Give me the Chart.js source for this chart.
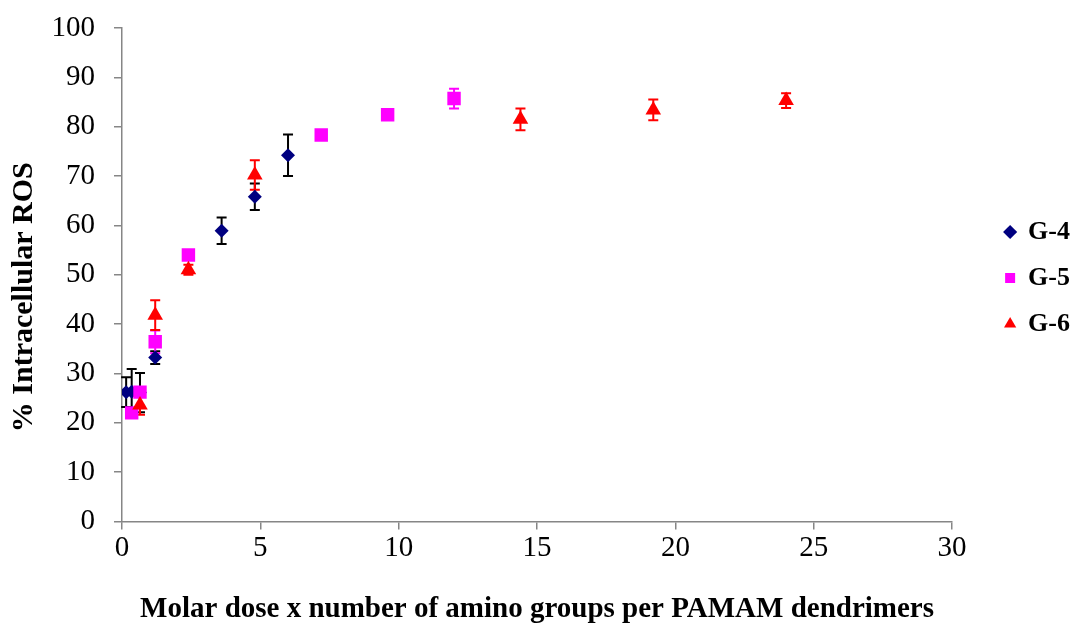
<!DOCTYPE html>
<html><head><meta charset="utf-8">
<script src="https://cdn.jsdelivr.net/npm/chart.js@4.4.0/dist/chart.umd.min.js"></script>
<style>html,body{margin:0;padding:0;background:#fff}</style>
</head><body>
<canvas id="c" width="1075" height="627"></canvas>
<script>
// ---- data ----
const seriesNames = ['G-4', 'G-5', 'G-6'];
const g4X = [0.15, 0.35, 0.65, 1.2, 3.6, 4.8, 6.0];
const g4Y = [26.2, 26.3, 26.1, 33.2, 58.9, 65.8, 74.2];
const g4Err = [3.0, 4.6, 4.0, 1.3, 2.7, 2.7, 4.2];
const g5X = [0.35, 0.65, 1.2, 2.4, 7.2, 9.6, 12.0];
const g5Y = [22.0, 26.2, 36.4, 54.0, 78.3, 82.4, 85.7];
const g5Err = [1.0, 1.0, 2.3, 0.8, 1.0, 0.8, 2.0];
const g6X = [0.65, 1.2, 2.4, 4.8, 14.4, 19.2, 24.0];
const g6Y = [23.6, 41.8, 51.0, 70.2, 81.5, 83.4, 85.3];
const g6Err = [2.0, 3.0, 1.0, 3.0, 2.2, 2.1, 1.5];
const xTicks = [0, 5, 10, 15, 20, 25, 30];
const yTicks = [0, 10, 20, 30, 40, 50, 60, 70, 80, 90, 100];

const serif = '"Liberation Serif", "Times New Roman", serif';
const axisColor = '#868686';

function pts(xs, ys) { return xs.map((x, i) => ({ x: x, y: ys[i] })); }

const errors = [g4Err, g5Err, g6Err];
const errColors = ['#000000', '#FF00FF', '#FF0000'];

const errorBarPlugin = {
  id: 'errorBars',
  beforeDatasetsDraw(chart) {
    const ctx = chart.ctx;
    const xs = chart.scales.x, ys = chart.scales.y;
    chart.data.datasets.forEach((ds, di) => {
      const errs = errors[di];
      ctx.save();
      ctx.strokeStyle = errColors[di];
      ctx.lineWidth = 2;
      ds.data.forEach((p, j) => {
        const e = errs[j];
        if (!e) return;
        const px = xs.getPixelForValue(p.x);
        const top = ys.getPixelForValue(p.y + e);
        const bot = ys.getPixelForValue(p.y - e);
        ctx.beginPath();
        ctx.moveTo(px, top); ctx.lineTo(px, bot);
        ctx.moveTo(px - 5, top); ctx.lineTo(px + 5, top);
        ctx.moveTo(px - 5, bot); ctx.lineTo(px + 5, bot);
        ctx.stroke();
      });
      ctx.restore();
    });
  }
};

new Chart(document.getElementById('c'), {
  type: 'scatter',
  data: {
    datasets: [
      { label: seriesNames[0], data: pts(g4X, g4Y), pointStyle: 'rectRot', radius: 7, order: 3,
        backgroundColor: '#000080', borderColor: '#000080', borderWidth: 0 },
      { label: seriesNames[1], data: pts(g5X, g5Y), pointStyle: 'rect', radius: 9.5, order: 2,
        backgroundColor: '#FF00FF', borderColor: '#FF00FF', borderWidth: 0 },
      { label: seriesNames[2], data: pts(g6X, g6Y), pointStyle: 'triangle', radius: 9, order: 1,
        backgroundColor: '#FF0000', borderColor: '#FF0000', borderWidth: 0 }
    ]
  },
  options: {
    responsive: false,
    devicePixelRatio: 1,
    animation: false,
    layout: { padding: { top: 2, right: -5, left: 2, bottom: 0 } },
    plugins: {
      tooltip: { enabled: false },
      legend: {
        position: 'right',
        align: 'start',
        title: { display: true, text: ' ', font: { size: 10 }, padding: { top: 185, bottom: 0 } },
        labels: {
          usePointStyle: true,
          boxWidth: 10, boxHeight: 10,
          padding: 20,
          color: '#000',
          sort: (a, b) => a.datasetIndex - b.datasetIndex,
          font: { family: serif, size: 26, weight: 'bold' }
        }
      }
    },
    scales: {
      x: {
        type: 'linear', min: 0, max: 30,
        afterBuildTicks: s => { s.ticks = xTicks.map(v => ({ value: v })); },
        ticks: { color: '#000', font: { family: serif, size: 29 }, padding: 2 },
        grid: { drawOnChartArea: false, tickLength: 8, color: axisColor, lineWidth: 1.5 },
        border: { color: axisColor, width: 1.5 },
        title: { display: true, text: 'Molar dose x number of amino groups per PAMAM dendrimers',
                 color: '#000', font: { family: serif, size: 29, weight: 'bold' }, padding: { top: 24, bottom: 0 } }
      },
      y: {
        min: 0, max: 100,
        afterBuildTicks: s => { s.ticks = yTicks.map(v => ({ value: v })); },
        afterFit: s => { s.width = 120; s.paddingTop = 28; s.paddingBottom = 20; },
        ticks: { color: '#000', font: { family: serif, size: 29 }, padding: 19 },
        grid: { drawOnChartArea: false, tickLength: 8, color: axisColor, lineWidth: 1.5 },
        border: { color: axisColor, width: 1.5 },
        title: { display: true, text: '% Intracellular ROS\u00A0\u00A0\u00A0\u00A0\u00A0\u00A0',
                 color: '#000', font: { family: serif, size: 30, weight: 'bold' }, padding: { top: 4, bottom: 2 } }
      },
      gap: {
        type: 'linear', position: 'right', display: true,
        grid: { display: false }, border: { display: false }, ticks: { display: false },
        afterFit: s => { s.width = 33; }
      }
    }
  },
  plugins: [errorBarPlugin]
});
</script>
</body></html>
